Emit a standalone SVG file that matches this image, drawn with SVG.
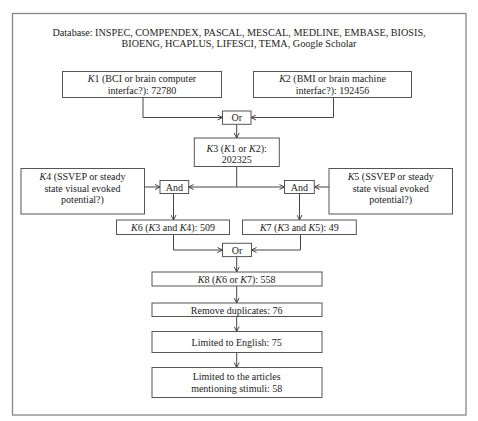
<svg xmlns="http://www.w3.org/2000/svg" width="478" height="421" viewBox="0 0 478 421">
<defs>
<marker id="arr" viewBox="0 0 6 6" refX="5.5" refY="3" markerWidth="6" markerHeight="6" markerUnits="userSpaceOnUse" orient="auto">
<path d="M0.5,0.5 L5.5,3 L0.5,5.5" fill="none" stroke="#333" stroke-width="0.9"/>
</marker>
</defs>
<style>
text{font-family:"Liberation Serif","Times New Roman",serif;font-size:10px;fill:#222;text-anchor:middle}
.t{font-size:10.2px}
.b{fill:#fff;stroke:#555;stroke-width:1}
.c{fill:none;stroke:#444;stroke-width:1}
.a{marker-end:url(#arr)}
i,.i{font-style:italic}
</style>
<rect x="0" y="0" width="478" height="421" fill="#fff"/>
<rect x="12.5" y="13.5" width="453.5" height="401.5" fill="none" stroke="#888" stroke-width="1.3"/>
<g id="title">
<text class="t" x="239" y="36">Database: INSPEC, COMPENDEX, PASCAL, MESCAL, MEDLINE, EMBASE, BIOSIS,</text>
<text class="t" x="239" y="47">BIOENG, HCAPLUS, LIFESCI, TEMA, Google Scholar</text>
</g>
<g id="connectors">
<path class="c a" d="M143,97.5 V117.5 H222.5"/>
<path class="c a" d="M333.5,97.5 V117.5 H251"/>
<path class="c a" d="M236.7,124.3 V138"/>
<path class="c" d="M236.7,166.5 V187"/>
<path class="c a" d="M236.7,187 H188.7"/>
<path class="c a" d="M236.7,187 H284.5"/>
<path class="c a" d="M144.5,187 H160"/>
<path class="c a" d="M329,187 H314.5"/>
<path class="c a" d="M173.5,193.5 V220"/>
<path class="c a" d="M299.5,193.5 V220"/>
<path class="c a" d="M173.5,234.5 V250 H222.5"/>
<path class="c a" d="M300.5,234.5 V250 H251.5"/>
<path class="c a" d="M236.7,256.5 V272"/>
<path class="c a" d="M236.7,286 V303"/>
<path class="c a" d="M236.7,316.5 V331.5"/>
<path class="c a" d="M236.7,352.5 V367.5"/>
</g>
<g id="k1">
<rect class="b" x="62.5" y="71.5" width="159" height="26"/>
<text x="142" y="82"><tspan class="i">K</tspan>1 (BCI or brain computer</text>
<text x="142" y="93.5">interfac?): 72780</text>
</g>
<g id="k2">
<rect class="b" x="253.5" y="71.5" width="158" height="26"/>
<text x="332.5" y="82"><tspan class="i">K</tspan>2 (BMI or brain machine</text>
<text x="332.5" y="93.5">interfac?): 192456</text>
</g>
<g id="or1">
<rect class="b" x="222.5" y="111" width="28.5" height="13.3"/>
<text x="236.7" y="121.3">Or</text>
</g>
<g id="k3">
<rect class="b" x="194.3" y="138" width="85" height="28.5"/>
<text x="236.7" y="151.5"><tspan class="i">K</tspan>3 (<tspan class="i">K</tspan>1 or <tspan class="i">K</tspan>2):</text>
<text x="236.7" y="163">202325</text>
</g>
<g id="k4">
<rect class="b" x="21" y="168.5" width="123.5" height="45.5"/>
<text x="82.5" y="180"><tspan class="i">K</tspan>4 (SSVEP or steady</text>
<text x="82.5" y="191.5">state visual evoked</text>
<text x="82.5" y="203">potential?)</text>
</g>
<g id="and1">
<rect class="b" x="160" y="180.5" width="28.7" height="13"/>
<text x="174.3" y="190.7">And</text>
</g>
<g id="and2">
<rect class="b" x="284.5" y="180.5" width="29.8" height="13"/>
<text x="299.4" y="190.7">And</text>
</g>
<g id="k5">
<rect class="b" x="329" y="168.5" width="123.5" height="45.5"/>
<text x="390.7" y="180"><tspan class="i">K</tspan>5 (SSVEP or steady</text>
<text x="390.7" y="191.5">state visual evoked</text>
<text x="390.7" y="203">potential?)</text>
</g>
<g id="k6">
<rect class="b" x="116.5" y="220" width="113" height="14.5"/>
<text x="173" y="231"><tspan class="i">K</tspan>6 (<tspan class="i">K</tspan>3 and <tspan class="i">K</tspan>4): 509</text>
</g>
<g id="k7">
<rect class="b" x="242.5" y="220" width="113.8" height="14.5"/>
<text x="299.4" y="231"><tspan class="i">K</tspan>7 (<tspan class="i">K</tspan>3 and <tspan class="i">K</tspan>5): 49</text>
</g>
<g id="or2">
<rect class="b" x="222.5" y="243.3" width="29" height="13.3"/>
<text x="237" y="253.6">Or</text>
</g>
<g id="k8">
<rect class="b" x="152" y="272" width="170" height="14"/>
<text x="236.7" y="282.8"><tspan class="i">K</tspan>8 (<tspan class="i">K</tspan>6 or <tspan class="i">K</tspan>7): 558</text>
</g>
<g id="dup">
<rect class="b" x="152" y="303" width="170" height="13.5"/>
<text x="236.7" y="313.5">Remove duplicates: 76</text>
</g>
<g id="eng">
<rect class="b" x="152" y="331.5" width="170" height="21"/>
<text x="236.7" y="346">Limited to English: 75</text>
</g>
<g id="stim">
<rect class="b" x="152" y="367.5" width="170" height="30"/>
<text x="236.7" y="380.3">Limited to the articles</text>
<text x="236.7" y="392">mentioning stimuli: 58</text>
</g>
</svg>
